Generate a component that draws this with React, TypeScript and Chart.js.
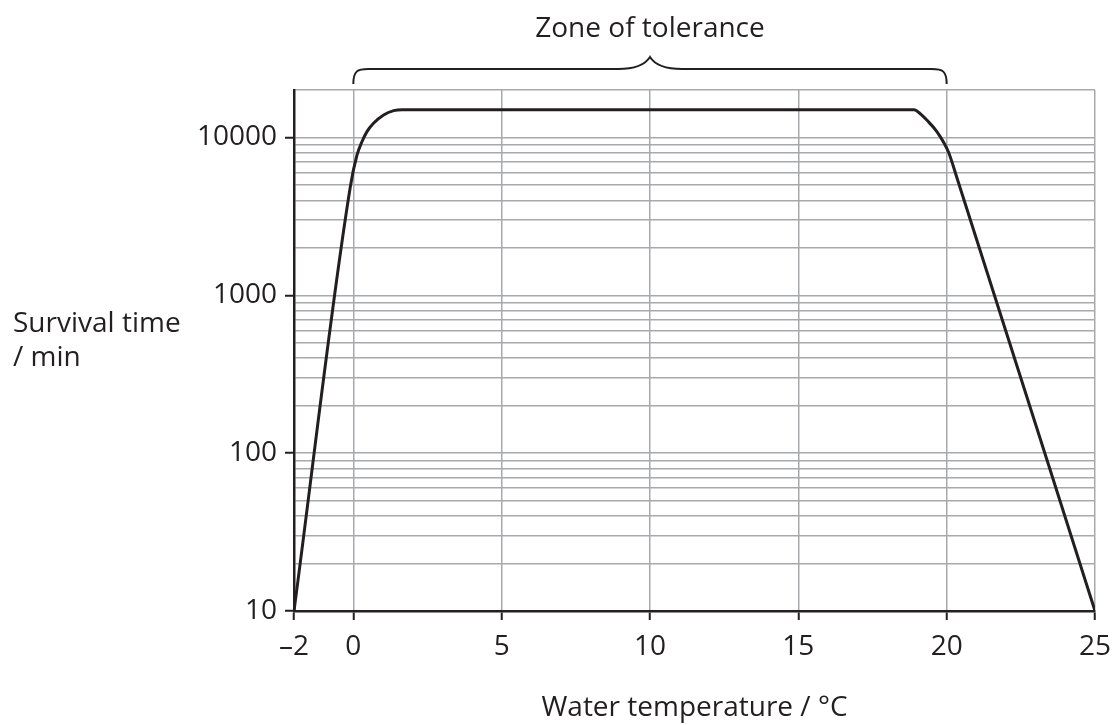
import React, { useEffect, useRef } from "react";
import { Chart, registerables } from "chart.js";

Chart.register(...registerables);

const temperatures = [-2, -0.1, 0.12, 0.29, 0.46, 0.68, 1.02, 1.36, 1.65, 18.9, 19.1, 19.33, 19.67, 20.06, 20.34, 25];
const survivalTimes = [10, 4900, 7700, 9400, 10900, 12300, 13900, 14800, 15000, 15000, 14200, 12900, 10900, 8100, 5600, 10];

const xTickValues = [-2, 0, 5, 10, 15, 20, 25];
const xTickLabels = ["\u20132", "0", "5", "10", "15", "20", "25"];
const yTickValues = [10, 100, 1000, 10000];
const yTickLabels = ["10", "100", "1000", "10000"];
const yGridDecades = [10, 100, 1000];
const yGridSteps = [1, 2, 3, 4, 5, 6, 7, 8, 9];
const yTop = 20000;

const titleText = "Zone of tolerance";
const zoneStart = 0;
const zoneEnd = 20;
const yTitleLines = ["Survival time", "/ min"];
const xTitleText = "Water temperature / \u00b0C";

const FONT = "'Open Sans', 'Noto Sans', sans-serif";
const FS = 28;
const INK = "#231f20";
const GRID = "#a7a9ac";

const decorPlugin = {
  id: "decor",
  afterDraw(chart: any) {
    const { ctx, chartArea, scales } = chart;
    const xs = scales.x;
    const x0 = xs.getPixelForValue(zoneStart);
    const x1 = xs.getPixelForValue(zoneEnd);
    const xm = (x0 + x1) / 2;
    const top = chartArea.top;
    const yb = top - 6;
    const yl = top - 21;
    const yt = top - 33;
    const r = 15;
    ctx.save();
    ctx.strokeStyle = INK;
    ctx.lineWidth = 2;
    ctx.beginPath();
    ctx.moveTo(x0, yb);
    ctx.bezierCurveTo(x0, yl + 2, x0 + 4, yl, x0 + r, yl);
    ctx.lineTo(xm - 32, yl);
    ctx.bezierCurveTo(xm - 14, yl, xm - 5, yl - 4, xm, yt);
    ctx.bezierCurveTo(xm + 5, yl - 4, xm + 14, yl, xm + 32, yl);
    ctx.lineTo(x1 - r, yl);
    ctx.bezierCurveTo(x1 - 4, yl, x1, yl + 2, x1, yb);
    ctx.stroke();

    ctx.fillStyle = INK;
    ctx.font = `${FS}px ${FONT}`;
    ctx.textAlign = "center";
    ctx.textBaseline = "middle";
    ctx.fillText(titleText, xm, 29);

    ctx.textAlign = "left";
    ctx.fillText(yTitleLines[0], 13, 324);
    ctx.fillText(yTitleLines[1], 13, 358);

    ctx.textAlign = "center";
    ctx.fillText(xTitleText, (chartArea.left + chartArea.right) / 2, 708);
    ctx.restore();
  },
};

export default function App() {
  const ref = useRef<HTMLCanvasElement | null>(null);
  useEffect(() => {
    if (!ref.current) return;
    const chart = new Chart(ref.current, {
      type: "line",
      data: {
        datasets: [
          {
            data: temperatures.map((t, i) => ({ x: t, y: survivalTimes[i] })),
            borderColor: INK,
            borderWidth: 3,
            pointRadius: 0,
            fill: false,
            cubicInterpolationMode: "monotone",
          },
        ],
      },
      options: {
        animation: false,
        responsive: false,
        devicePixelRatio: 1,
        layout: { padding: { top: 90, right: 20, left: 0, bottom: 0 } },
        plugins: { legend: { display: false }, tooltip: { enabled: false }, title: { display: false } },
        scales: {
          x: {
            type: "linear",
            min: -2,
            max: 25,
            afterBuildTicks: (scale: any) => {
              scale.ticks = xTickValues.map((v) => ({ value: v }));
            },
            afterFit: (scale: any) => {
              scale.height = 114;
              scale.paddingLeft = 0;
              scale.paddingRight = 0;
            },
            ticks: {
              autoSkip: false,
              maxRotation: 0,
              padding: 10,
              color: INK,
              font: { family: FONT, size: FS },
              callback: (v: any) => {
                const i = xTickValues.indexOf(Number(v));
                return i >= 0 ? xTickLabels[i] : "";
              },
            },
            grid: {
              color: (c: any) => (c.tick && c.tick.value === -2 ? "rgba(0,0,0,0)" : GRID),
              lineWidth: 1.5,
              tickColor: INK,
              tickWidth: 2,
              tickLength: 9,
              drawTicks: true,
            },
            border: { color: INK, width: 2.5 },
          },
          y: {
            type: "logarithmic",
            min: 10,
            max: yTop,
            afterBuildTicks: (scale: any) => {
              const t: any[] = [];
              yGridDecades.forEach((d) => yGridSteps.forEach((s) => t.push({ value: d * s })));
              t.push({ value: 10000 }, { value: yTop });
              scale.ticks = t;
            },
            afterFit: (scale: any) => {
              scale.width = 294;
              scale.paddingTop = 0;
              scale.paddingBottom = 0;
            },
            ticks: {
              autoSkip: false,
              padding: 8,
              color: INK,
              font: { family: FONT, size: FS },
              callback: (v: any) => {
                const i = yTickValues.indexOf(Number(v));
                return i >= 0 ? yTickLabels[i] : "";
              },
            },
            grid: {
              color: (c: any) => (c.tick && c.tick.value === 10 ? "rgba(0,0,0,0)" : GRID),
              lineWidth: 1.5,
              tickColor: (c: any) =>
                c.tick && yTickValues.indexOf(c.tick.value) >= 0 ? INK : "rgba(0,0,0,0)",
              tickWidth: 2,
              tickLength: 9,
              drawTicks: true,
            },
            border: { color: INK, width: 2.5 },
          },
        },
      },
      plugins: [decorPlugin],
    } as any);
    return () => chart.destroy();
  }, []);
  return (
    <div style={{ position: "fixed", left: 0, top: 0, width: 1115, height: 725, background: "#fff" }}>
      <canvas ref={ref} width={1115} height={725} />
    </div>
  );
}
